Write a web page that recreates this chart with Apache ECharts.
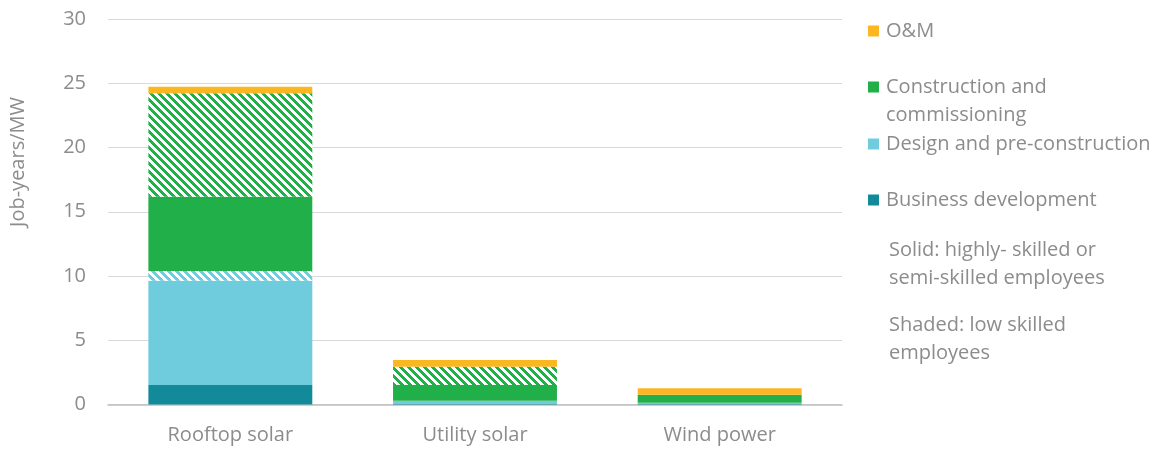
<!DOCTYPE html>
<html>
<head>
<meta charset="utf-8">
<script src="https://cdn.jsdelivr.net/npm/echarts@6/dist/echarts.min.js"></script>
<style>
  html, body { margin: 0; padding: 0; background: #fff; }
  #chart { width: 1156px; height: 449px; }
</style>
</head>
<body>
<div id="chart"></div>
<script>
// Job-years per MW by technology and activity
const categories = ['Rooftop solar', 'Utility solar', 'Wind power'];
const businessDev = [1.52, 0.08, 0.04];
const designSolid = [8.11, 0.22, 0.1];
const designShaded = [0.76, 0, 0];
const constructionSolid = [5.78, 1.22, 0.62];
const constructionShaded = [8.05, 1.42, 0];
const oAndM = [0.51, 0.52, 0.5];
const yTicks = [0, 5, 10, 15, 20, 25, 30];

const COLORS = {
  om: '#FBB622',
  construction: '#21AF4A',
  design: '#6ECCDC',
  business: '#138A9A'
};
const TEXT = '#8c8c8c';
const FONT = '"Open Sans", "Noto Sans", sans-serif';
const FS = 20;

// Diagonal hatch fill: coloured stripes on white, running down to the right
function hatch(color) {
  const c = document.createElement('canvas');
  c.width = 8; c.height = 8;
  const ctx = c.getContext('2d');
  ctx.fillStyle = '#ffffff';
  ctx.fillRect(0, 0, 8, 8);
  ctx.fillStyle = color;
  for (let y = 0; y < 8; y++) {
    for (let x = 0; x < 8; x++) {
      if ((((x - y) % 8) + 8) % 8 < 4) ctx.fillRect(x, y, 1, 1);
    }
  }
  return { image: c, repeat: 'repeat' };
}

function bar(name, data, color) {
  return {
    name: name,
    type: 'bar',
    stack: 'jobs',
    data: data,
    barCategoryGap: '33%',
    itemStyle: { color: color },
    emphasis: { disabled: true }
  };
}

const series = [
  bar('Business development', businessDev, COLORS.business),
  bar('Design and pre-construction', designSolid, COLORS.design),
  bar('Design shaded', designShaded, hatch(COLORS.design)),
  bar('Construction and commissioning', constructionSolid, COLORS.construction),
  bar('Construction shaded', constructionShaded, hatch(COLORS.construction)),
  bar('O&M', oAndM, COLORS.om)
];

function legendItem(name, top, icon, h) {
  return {
    data: [{ name: name, icon: icon || 'rect', itemStyle: { color: series.find(s => s.name === name).itemStyle.color } }],
    left: 868,
    top: top,
    padding: 0,
    itemWidth: 11,
    itemHeight: h || 11,
    itemGap: 0,
    selectedMode: false,
    formatter: n => n === 'Construction and commissioning' ? 'Construction and\ncommissioning' : n,
    textStyle: { color: TEXT, fontSize: FS, fontFamily: FONT, lineHeight: 28, padding: [0, 0, 0, 2] }
  };
}

const chart = echarts.init(document.getElementById('chart'), null, { renderer: 'canvas' });
chart.setOption({
  animation: false,
  backgroundColor: '#ffffff',
  grid: { left: 108, right: 314, top: 19, bottom: 44.5 },
  legend: [
    legendItem('O&M', 17),
    legendItem('Construction and commissioning', 73, 'path://M0,0H11V11H0Z M0,39H0.001V39.001H0Z', 39),
    legendItem('Design and pre-construction', 130),
    legendItem('Business development', 186)
  ],
  xAxis: {
    type: 'category',
    data: categories,
    axisTick: { show: false },
    axisLine: { lineStyle: { color: '#bfbfbf', width: 1.5 } },
    axisLabel: { color: TEXT, fontSize: FS, fontFamily: FONT, margin: 21 }
  },
  yAxis: {
    type: 'value',
    min: yTicks[0],
    max: yTicks[yTicks.length - 1],
    interval: 5,
    axisLine: { show: false },
    axisTick: { show: false },
    splitLine: { lineStyle: { color: '#d9d9d9', width: 1 } },
    axisLabel: { color: TEXT, fontSize: FS, fontFamily: FONT, margin: 22 }
  },
  graphic: [
    {
      type: 'text', x: 18, y: 162, rotation: Math.PI / 2,
      style: { text: 'Job-years/MW', fill: TEXT, font: FS + 'px ' + FONT, align: 'center', verticalAlign: 'middle' }
    },
    {
      type: 'text', left: 889, top: 236,
      style: { text: 'Solid: highly- skilled or\nsemi-skilled employees', fill: TEXT, font: FS + 'px ' + FONT, lineHeight: 28 }
    },
    {
      type: 'text', left: 889, top: 311,
      style: { text: 'Shaded: low skilled\nemployees', fill: TEXT, font: FS + 'px ' + FONT, lineHeight: 28 }
    }
  ],
  series: series
});
</script>
</body>
</html>
